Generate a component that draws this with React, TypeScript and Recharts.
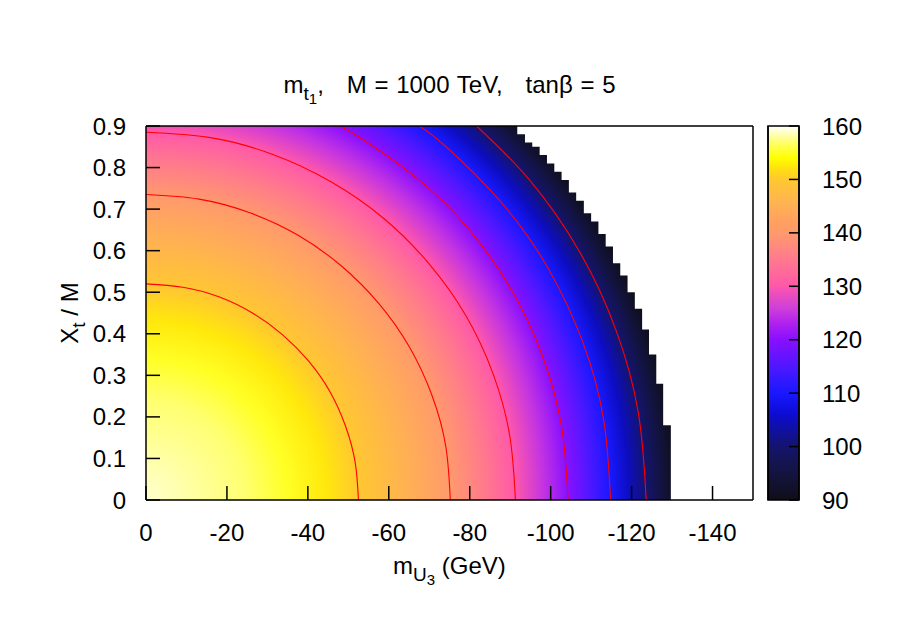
import React from "react";
import { ComposedChart, XAxis, YAxis, Line, ReferenceArea, Label } from "recharts";

const FONT = '"Liberation Sans", Arial, Helvetica, sans-serif';

// axis ticks
const xTicks = [0, -20, -40, -60, -80, -100, -120, -140];
const yTicks = [0, 0.1, 0.2, 0.3, 0.4, 0.5, 0.6, 0.7, 0.8, 0.9];
const cbTicks = [90, 100, 110, 120, 130, 140, 150, 160];

// data region: right edge (GeV) and top (Xt/M) of each column of the grid
const colRight = [
  -91.75, -93.65, -95.45, -97.28, -99.09, -100.9, -102.7, -104.5, -106.3, -108.2, -110.0,
  -111.8, -113.6, -115.4, -117.2, -119.0, -120.8, -122.6, -124.3, -126.1, -127.8, -129.7,
];
const colTop = [
  0.9, 0.88, 0.86, 0.85, 0.83, 0.81, 0.79, 0.77, 0.74, 0.72, 0.69,
  0.67, 0.64, 0.61, 0.57, 0.54, 0.5, 0.46, 0.41, 0.35, 0.28, 0.18,
];

// m_t1 value vs. distance from the origin along the m_U3 axis (GeV)
const fieldValue = [159, 157, 155, 152.5, 150, 145, 140, 135, 130, 125, 120, 115, 110, 105, 100, 95, 90];
const fieldRadius = [0, 24.7, 35, 44.6, 52.5, 65, 75.2, 84, 91.3, 98, 104.3, 109.7, 114.8, 119.3, 123.6, 127.5, 131.3];
const xtPerGeV = 0.0097; // contours: Xt/M intercept per GeV of m_U3 intercept

// contour lines (150 ... 100)
const contour150 = [
  { x: -52.5, y: 0 }, { x: -51.7, y: 0.09 }, { x: -49.3, y: 0.178 }, { x: -45.5, y: 0.26 },
  { x: -40.2, y: 0.334 }, { x: -33.7, y: 0.398 }, { x: -26.3, y: 0.45 }, { x: -18, y: 0.489 },
  { x: -9.1, y: 0.512 }, { x: 0, y: 0.52 },
];
const contour140 = [
  { x: -75.2, y: 0 }, { x: -74.1, y: 0.128 }, { x: -70.7, y: 0.251 }, { x: -65.1, y: 0.368 },
  { x: -57.6, y: 0.472 }, { x: -48.3, y: 0.563 }, { x: -37.6, y: 0.637 }, { x: -25.7, y: 0.691 },
  { x: -13.1, y: 0.724 }, { x: 0, y: 0.735 },
];
const contour130 = [
  { x: -91.3, y: 0 }, { x: -89.9, y: 0.154 }, { x: -85.8, y: 0.303 }, { x: -79.1, y: 0.443 },
  { x: -69.9, y: 0.569 }, { x: -58.7, y: 0.678 }, { x: -45.7, y: 0.766 }, { x: -31.2, y: 0.832 },
  { x: -15.9, y: 0.872 }, { x: 0, y: 0.885 },
];
const contour120 = [
  { x: -104.3, y: 0 }, { x: -102.7, y: 0.176 }, { x: -98, y: 0.346 }, { x: -90.3, y: 0.506 },
  { x: -79.9, y: 0.65 }, { x: -67, y: 0.774 }, { x: -52.2, y: 0.876 }, { x: -47.5, y: 0.9 },
];
const contour110 = [
  { x: -114.8, y: 0 }, { x: -113.1, y: 0.193 }, { x: -107.9, y: 0.381 }, { x: -99.4, y: 0.557 },
  { x: -87.9, y: 0.715 }, { x: -73.8, y: 0.853 }, { x: -67.5, y: 0.9 },
];
const contour100 = [
  { x: -123.6, y: 0 }, { x: -121.7, y: 0.208 }, { x: -116.1, y: 0.41 }, { x: -107, y: 0.6 },
  { x: -94.7, y: 0.771 }, { x: -81.7, y: 0.9 },
];
const contours = [contour150, contour140, contour130, contour120, contour110, contour100];

// colour palette of the colour box
const paletteValue = [90, 93, 96, 100, 103, 106, 110, 114, 117, 120, 123, 126, 129, 130, 133, 136, 140, 142, 146, 150, 152, 154, 157, 160];
const paletteHex = [
  "#0e0e18", "#121230", "#141448", "#14146e", "#1010a0", "#0c0cd2", "#1818ff", "#4418ff",
  "#6614ff", "#8810ff", "#b020f0", "#d040d8", "#f050b8", "#ff58aa", "#ff6c98", "#ff8088",
  "#ff9a6c", "#ffa060", "#ffb550", "#ffc830", "#ffe010", "#ffff00", "#ffff70", "#ffffff",
];

function hexRgb(h: string) {
  return [1, 3, 5].map((i) => parseInt(h.slice(i, i + 2), 16));
}

function palette(v: number) {
  if (v <= paletteValue[0]) return paletteHex[0];
  for (let i = 1; i < paletteValue.length; i++) {
    if (v <= paletteValue[i]) {
      const t = (v - paletteValue[i - 1]) / (paletteValue[i] - paletteValue[i - 1]);
      const a = hexRgb(paletteHex[i - 1]);
      const b = hexRgb(paletteHex[i]);
      const c = a.map((ai, k) => Math.round(ai + (b[k] - ai) * t));
      return `rgb(${c[0]},${c[1]},${c[2]})`;
    }
  }
  return paletteHex[paletteHex.length - 1];
}

const rMax = fieldRadius[fieldRadius.length - 1];

const axisStroke = { stroke: "#000", strokeWidth: 1.5 };
const tickFont = { fontSize: 24, fill: "#000", fontFamily: FONT };

function TitleText() {
  return (
    <text x={449.5} y={92.5} textAnchor="middle" fontSize={24} fill="#000" fontFamily={FONT} style={{ wordSpacing: 1 }}>
      m<tspan dy={7} fontSize={19}>t</tspan>
      <tspan dy={4} fontSize={15}>1</tspan>
      <tspan dy={-11}>{",\u00a0\u00a0\u00a0M = 1000 TeV,\u00a0\u00a0\u00a0tanβ = 5"}</tspan>
    </text>
  );
}

function XLabelText() {
  return (
    <text x={449.5} y={574} textAnchor="middle" fontSize={24} fill="#000" fontFamily={FONT}>
      m<tspan dy={7} fontSize={19}>U</tspan>
      <tspan dy={4} fontSize={15}>3</tspan>
      <tspan dy={-11}>{"\u00a0(GeV)"}</tspan>
    </text>
  );
}

function YLabelText() {
  return (
    <text x={78} y={313} transform="rotate(-90 78 313)" textAnchor="middle" fontSize={24} fill="#000" fontFamily={FONT}>
      X<tspan dy={7} fontSize={19}>t</tspan>
      <tspan dy={-7}>{"\u00a0/ M"}</tspan>
    </text>
  );
}

function HeatMap() {
  return (
    <ComposedChart width={900} height={628} margin={{ top: 125, right: 146, bottom: 98, left: 86 }}>
      <defs>
        {colRight.map((r, i) => {
          const sx = rMax / Math.abs(r);
          const sy = (rMax * xtPerGeV) / colTop[i];
          return (
            <radialGradient
              key={i}
              id={`heat${i}`}
              cx={0}
              cy={1}
              r={1}
              fx={0}
              fy={1}
              gradientTransform={`translate(0 1) scale(${sx} ${sy}) translate(0 -1)`}
            >
              {fieldValue.map((v, j) => (
                <stop key={j} offset={fieldRadius[j] / rMax} stopColor={palette(v)} />
              ))}
            </radialGradient>
          );
        })}
      </defs>

      {colRight.map((r, i) => (
        <ReferenceArea
          key={i}
          x1={0}
          x2={r}
          y1={0}
          y2={colTop[i]}
          fill={`url(#heat${i})`}
          fillOpacity={1}
          stroke="none"
          ifOverflow="visible"
        />
      ))}

      {contours.map((c, i) => (
        <Line
          key={i}
          data={c}
          dataKey="y"
          type="natural"
          stroke="#ff0000"
          strokeWidth={1.1}
          dot={false}
          activeDot={false}
          isAnimationActive={false}
        />
      ))}

      <XAxis
        type="number"
        dataKey="x"
        domain={[-150, 0]}
        reversed
        allowDataOverflow
        ticks={xTicks}
        interval={0}
        height={30}
        tickSize={-14}
        tickMargin={38}
        tick={tickFont}
        tickLine={axisStroke}
        axisLine={axisStroke}
      >
        <Label content={() => <XLabelText />} />
      </XAxis>
      <XAxis
        xAxisId="t"
        orientation="top"
        type="number"
        dataKey="x"
        domain={[-150, 0]}
        reversed
        allowDataOverflow
        ticks={xTicks}
        interval={0}
        height={1}
        tickSize={-14}
        tick={false}
        tickLine={axisStroke}
        axisLine={axisStroke}
      >
        <Label content={() => <TitleText />} />
      </XAxis>
      <YAxis
        type="number"
        domain={[0, 0.9]}
        allowDataOverflow
        ticks={yTicks}
        interval={0}
        width={60}
        tickSize={-14}
        tickMargin={34}
        tick={tickFont}
        tickLine={axisStroke}
        axisLine={axisStroke}
      >
        <Label content={() => <YLabelText />} />
      </YAxis>
      <YAxis
        yAxisId="r"
        orientation="right"
        type="number"
        domain={[0, 0.9]}
        allowDataOverflow
        ticks={yTicks}
        interval={0}
        width={1}
        tickSize={-14}
        tick={false}
        tickLine={axisStroke}
        axisLine={axisStroke}
      />
    </ComposedChart>
  );
}

// one point per colour-box tick so the colour box chart has data to lay out
const cbRows = cbTicks.map((v) => ({ x: 0.5, v }));

function ColorBox() {
  return (
    <ComposedChart width={200} height={628} data={cbRows} margin={{ top: 126, right: 100, bottom: 128, left: 67 }}>
      <defs>
        <linearGradient id="cbox" x1={0} y1={1} x2={0} y2={0}>
          {paletteValue.map((v, i) => (
            <stop key={i} offset={(v - 90) / 70} stopColor={paletteHex[i]} />
          ))}
        </linearGradient>
      </defs>
      <XAxis type="number" dataKey="x" domain={[0, 1]} hide />
      <ReferenceArea
        x1={0}
        x2={1}
        y1={90}
        y2={160}
        fill="url(#cbox)"
        fillOpacity={1}
        stroke="#000"
        strokeWidth={1.5}
        ifOverflow="visible"
      />
      <Line dataKey="v" stroke="none" dot={false} activeDot={false} isAnimationActive={false} />
      <YAxis
        yAxisId="l"
        orientation="left"
        type="number"
        domain={[90, 160]}
        ticks={cbTicks}
        interval={0}
        width={1}
        tickSize={-10}
        tick={false}
        tickLine={axisStroke}
        axisLine={axisStroke}
      />
      <YAxis
        orientation="right"
        type="number"
        dataKey="v"
        domain={[90, 160]}
        ticks={cbTicks}
        interval={0}
        width={1}
        tickSize={-10}
        tickMargin={33}
        tick={tickFont}
        tickLine={axisStroke}
        axisLine={axisStroke}
      />
    </ComposedChart>
  );
}

export default function App() {
  return (
    <div style={{ position: "absolute", left: 0, top: 0, width: 900, height: 628, background: "#fff", fontFamily: FONT }}>
      <div style={{ position: "absolute", left: 0, top: 0 }}>
        <HeatMap />
      </div>
      <div style={{ position: "absolute", left: 700, top: 0 }}>
        <ColorBox />
      </div>
    </div>
  );
}
